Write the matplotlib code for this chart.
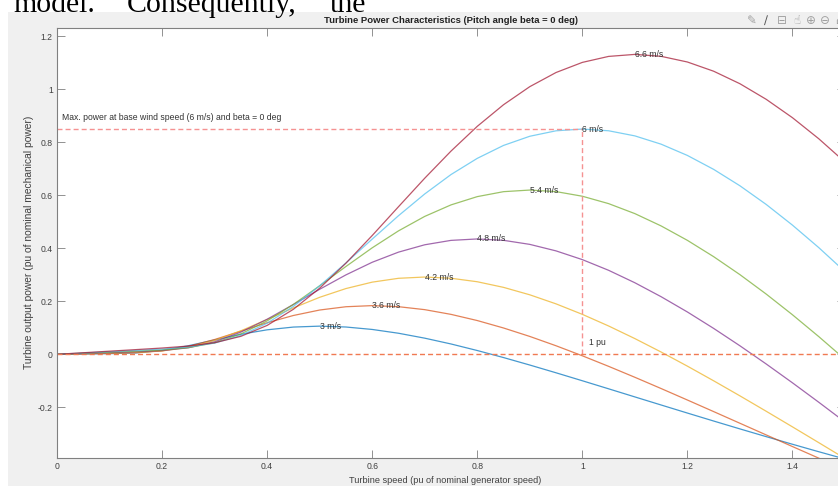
import numpy as np
import matplotlib
matplotlib.use("Agg")
import matplotlib.pyplot as plt
from matplotlib.patches import Rectangle

# rotor speed samples (pu of nominal generator speed)
speed = np.round(np.arange(31) * 0.05, 2)

# turbine output power (pu) for each wind speed, beta = 0 deg
wind = [3, 3.6, 4.2, 4.8, 5.4, 6, 6.6]
p_3 = [0, 0.0012, 0.0025, 0.0053, 0.0147, 0.0323, 0.0543, 0.0756, 0.0924, 0.1028, 0.1063,
       0.1030, 0.0938, 0.0795, 0.0609, 0.0390, 0.0143, -0.0123, -0.0405, -0.0698, -0.0998,
       -0.1302, -0.1608, -0.1913, -0.2217, -0.2518, -0.2815, -0.3107, -0.3394, -0.3676, -0.3951]
p_36 = [0, 0.0018, 0.0035, 0.0059, 0.0129, 0.0295, 0.0558, 0.0874, 0.1191, 0.1465, 0.1671,
        0.1795, 0.1837, 0.1797, 0.1685, 0.1507, 0.1274, 0.0993, 0.0674, 0.0322, -0.0056,
        -0.0454, -0.0867, -0.1292, -0.1725, -0.2162, -0.2602, -0.3042, -0.3481, -0.3918, -0.4351]
p_42 = [0, 0.0024, 0.0048, 0.0074, 0.0127, 0.0263, 0.0520, 0.0886, 0.1315, 0.1751, 0.2151,
        0.2481, 0.2723, 0.2868, 0.2916, 0.2870, 0.2738, 0.2526, 0.2245, 0.1903, 0.1508,
        0.1069, 0.0593, 0.0086, -0.0447, -0.1000, -0.1568, -0.2149, -0.2738, -0.3333, -0.3932]
p_48 = [0, 0.0031, 0.0062, 0.0094, 0.0140, 0.0246, 0.0471, 0.0837, 0.1323, 0.1880, 0.2454,
        0.2997, 0.3473, 0.3855, 0.4133, 0.4299, 0.4353, 0.4301, 0.4148, 0.3902, 0.3573,
        0.3170, 0.2700, 0.2173, 0.1597, 0.0977, 0.0321, -0.0365, -0.1076, -0.1808, -0.2556]
p_54 = [0, 0.0040, 0.0079, 0.0119, 0.0165, 0.0250, 0.0435, 0.0769, 0.1261, 0.1884, 0.2586,
        0.3314, 0.4018, 0.4657, 0.5204, 0.5638, 0.5950, 0.6137, 0.6198, 0.6139, 0.5965,
        0.5686, 0.5309, 0.4844, 0.4300, 0.3684, 0.3006, 0.2273, 0.1492, 0.0669, -0.0190]
p_6 = [0, 0.0049, 0.0098, 0.0146, 0.0198, 0.0273, 0.0423, 0.0711, 0.1173, 0.1808, 0.2584,
       0.3449, 0.4347, 0.5229, 0.6051, 0.6783, 0.7394, 0.7882, 0.8228, 0.8434, 0.8500,
       0.8435, 0.8242, 0.7929, 0.7504, 0.6978, 0.6359, 0.5655, 0.4874, 0.4027, 0.3118]
p_66 = [0, 0.0059, 0.0118, 0.0177, 0.0237, 0.0311, 0.0436, 0.0678, 0.1090, 0.1699, 0.2495,
        0.3439, 0.4482, 0.5568, 0.6645, 0.7668, 0.8602, 0.9418, 1.0100, 1.0634, 1.1015,
        1.1241, 1.1317, 1.1244, 1.1030, 1.0682, 1.0210, 0.9622, 0.8928, 0.8135, 0.7253]
power = [p_3, p_36, p_42, p_48, p_54, p_6, p_66]

# base point: 1 pu speed, max power at 6 m/s
base_speed = 1.0
base_power = 0.85

colors = ["#0072BD", "#D95319", "#EDB120", "#7E2F8E", "#77AC30", "#4DBEEE", "#A2142F"]

plt.rcParams["font.family"] = ["Liberation Sans", "DejaVu Sans"]

fig = plt.figure(figsize=(8.38, 4.86), dpi=100, facecolor="white")
W, H = 838, 486

# grey figure window behind the axes, and the bit of document text above it
fig.patches.append(Rectangle((8 / W, 0), 1, (H - 12) / H, transform=fig.transFigure,
                             facecolor="#f0f0f0", edgecolor="none", zorder=-10))
for x0, word in [(13, "model."), (127, "Consequently,"), (330, "the")]:
    fig.text(x0 / W, 1 - 12 / H, word, family="Liberation Serif", fontsize=21.5,
             va="baseline", ha="left", color="black")

# axes toolbar glyphs in the top right corner
for x0, g, c in [(752, "✎", "#a0a0a0"), (766, "∕", "#555555"), (782, "⊟", "#a0a0a0"),
                 (797, "☝", "#a0a0a0"), (811, "⊕", "#a0a0a0"), (825, "⊖", "#a0a0a0"),
                 (839, "⌂", "#a0a0a0")]:
    fig.text(x0 / W, 1 - 20.5 / H, g, family="DejaVu Sans", fontsize=8.5, color=c,
             ha="center", va="center")

ax = fig.add_axes([57 / W, (H - 457.5) / H, 788 / W, 429.5 / H])
ax.set_facecolor("white")

for v, p, c in zip(wind, power, colors):
    ax.plot(speed, p, color=c, lw=0.9, alpha=0.72)
    i = int(np.argmax(p))
    ax.text(speed[i], p[i], f"{v:g} m/s", fontsize=6.2, color="#333333",
            ha="left", va="center")

ax.plot([0, base_speed], [base_power, base_power], color="#f59292", lw=1.0, dashes=(3.6, 2.2))
ax.plot([base_speed, base_speed], [0, base_power], color="#f59292", lw=1.0, dashes=(3.6, 2.2))
ax.axhline(0, color="#f07a52", lw=1.0, dashes=(3.6, 2.2))

ax.text(0.01, 0.895, "Max. power at base wind speed (6 m/s) and beta = 0 deg",
        fontsize=6.2, color="#333333", ha="left", va="center")
ax.text(base_speed + 0.012, 0.044, "1 pu", fontsize=6.2, color="#333333", ha="left", va="center")

ax.set_xlim(0, 1.5)
ax.set_ylim(-0.3894, 1.2313)
ax.set_xticks([0, 0.2, 0.4, 0.6, 0.8, 1.0, 1.2, 1.4])
ax.set_xticklabels(["0", "0.2", "0.4", "0.6", "0.8", "1", "1.2", "1.4"])
ax.set_yticks([-0.2, 0, 0.2, 0.4, 0.6, 0.8, 1.0, 1.2])
ax.set_yticklabels(["-0.2", "0", "0.2", "0.4", "0.6", "0.8", "1", "1.2"])
ax.tick_params(direction="in", top=True, right=True, length=5.5, width=0.6,
               color="#808080", labelcolor="#404040", labelsize=6.2, pad=3)
for s in ax.spines.values():
    s.set_color("#808080")
    s.set_linewidth(0.8)

ax.set_title("Turbine Power Characteristics (Pitch angle beta = 0 deg)",
             fontsize=6.8, fontweight="bold", color="#222222", pad=3.5)
ax.set_xlabel("Turbine speed (pu of nominal generator speed)", fontsize=6.6, color="#404040")
ax.set_ylabel("Turbine output power (pu of nominal mechanical power)", fontsize=7.4, color="#404040")
ax.xaxis.set_label_coords(0.492, -0.043)
ax.yaxis.set_label_coords(-0.0286, 0.5)

fig.savefig("out.png", dpi=100)
